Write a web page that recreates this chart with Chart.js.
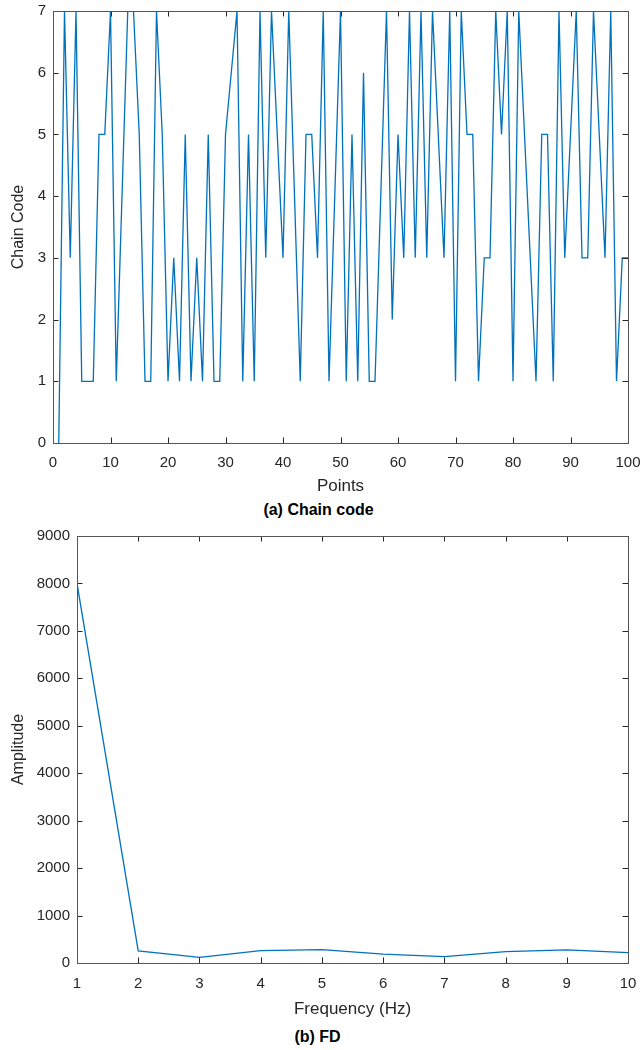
<!DOCTYPE html>
<html>
<head>
<meta charset="utf-8">
<script src="https://cdn.jsdelivr.net/npm/chart.js@4.4.1/dist/chart.umd.min.js"></script>
<style>
  body { margin: 0; background: #fff; width: 643px; height: 1050px; position: relative; overflow: hidden; }
  .box { position: absolute; left: 0; width: 643px; }
  .cap { position: absolute; width: 643px; text-align: center; font-family: "Liberation Sans", Arial, sans-serif;
         font-weight: bold; font-size: 16px; color: #000; }
</style>
</head>
<body>
<div class="box" style="top:0px;height:500px"><canvas id="chainChart"></canvas></div>
<div class="cap" style="top:501px;left:-3px">(a) Chain code</div>
<div class="box" style="top:520px;height:505px"><canvas id="fdChart"></canvas></div>
<div class="cap" style="top:1028px;left:-4px">(b) FD</div>
<script>
// chain code for points 1..100
const chainCode = [
  0, 7, 3, 7, 1, 1, 1, 5, 5, 7,
  1, 4, 7, 7, 5, 1, 1, 7, 5, 1,
  3, 1, 5, 1, 3, 1, 5, 1, 1, 5,
  6, 7, 1, 5, 1, 7, 3, 7, 5, 3,
  7, 4, 1, 5, 5, 3, 7, 1, 4, 7,
  1, 5, 1, 6, 1, 1, 4, 7, 2, 5,
  3, 7, 3, 7, 3, 7, 5, 3, 7, 1,
  7, 5, 5, 1, 3, 3, 7, 5, 7, 1,
  7, 5, 3, 1, 5, 5, 1, 7, 3, 5,
  7, 3, 3, 7, 5, 3, 7, 1, 3, 3
];

// fourier descriptor amplitudes
const fdFreq = [1, 2, 3, 4, 5, 6, 7, 8, 9, 10];
const fdAmp = [8000, 255, 120, 260, 280, 185, 135, 240, 275, 220];

const blue = '#0072BD';
const axisCol = '#262626';
const fontFam = '"Liberation Sans", Arial, sans-serif';

// MATLAB style box with inward ticks on all four sides
const boxTicks = {
  id: 'boxTicks',
  afterDraw(chart) {
    const ctx = chart.ctx;
    const a = chart.chartArea;
    const xs = chart.scales.x;
    const ys = chart.scales.y;
    const len = 5.5;
    ctx.save();
    ctx.strokeStyle = axisCol;
    ctx.lineWidth = 1;
    ctx.beginPath();
    xs.ticks.forEach((t) => {
      const px = Math.round(xs.getPixelForValue(t.value)) + 0.5;
      ctx.moveTo(px, a.bottom); ctx.lineTo(px, a.bottom - len);
      ctx.moveTo(px, a.top); ctx.lineTo(px, a.top + len);
    });
    ys.ticks.forEach((t) => {
      const py = Math.round(ys.getPixelForValue(t.value)) + 0.5;
      ctx.moveTo(a.left, py); ctx.lineTo(a.left + len, py);
      ctx.moveTo(a.right, py); ctx.lineTo(a.right - len, py);
    });
    ctx.stroke();
    ctx.strokeStyle = '#555';
    ctx.strokeRect(Math.round(a.left) + 0.5, Math.round(a.top) + 0.5,
      Math.round(a.right - a.left), Math.round(a.bottom - a.top));
    ctx.restore();
  }
};

function makeChart(target, points, opts) {
  return new Chart(target, {
    type: 'line',
    data: {
      datasets: [{
        data: points,
        borderColor: blue,
        borderWidth: 1.3,
        pointRadius: 0,
        tension: 0,
        fill: false
      }]
    },
    options: {
      responsive: true,
      maintainAspectRatio: false,
      animation: false,
      layout: { padding: opts.padding },
      plugins: { legend: { display: false }, tooltip: { enabled: false } },
      scales: {
        x: {
          type: 'linear',
          min: opts.xMin, max: opts.xMax,
          grid: { display: false, drawTicks: false },
          border: { display: false },
          afterFit: (s) => { s.height = opts.xHeight; s.paddingLeft = 0; s.paddingRight = 0; },
          ticks: { stepSize: opts.xStep, color: axisCol, font: { family: fontFam, size: 15 }, padding: opts.xTickPad, maxRotation: 0, autoSkip: false,
                   callback: (v) => String(v) },
          title: { display: true, text: opts.xTitle, color: axisCol, font: { family: fontFam, size: 17 }, padding: { top: 0, bottom: opts.xTitlePad } }
        },
        y: {
          min: opts.yMin, max: opts.yMax,
          grid: { display: false, drawTicks: false },
          border: { display: false },
          afterFit: (s) => { s.width = opts.yWidth; s.paddingTop = 0; s.paddingBottom = 0; },
          ticks: { stepSize: opts.yStep, color: axisCol, font: { family: fontFam, size: 15 }, padding: 7, autoSkip: false,
                   callback: (v) => String(v) },
          title: { display: true, text: opts.yTitle, color: axisCol, font: { family: fontFam, size: 16 }, padding: { top: 9, bottom: 0 } }
        }
      }
    },
    plugins: [boxTicks]
  });
}

function mainEvent() {
  const chainPts = chainCode.map((v, i) => ({ x: i + 1, y: v }));
  makeChart(document.querySelector('#chainChart'), chainPts, {
    padding: { top: 11, right: 15, left: 0, bottom: 0 },
    xMin: 0, xMax: 100, xStep: 10, xHeight: 57, xTickPad: 11, xTitle: 'Points', xTitlePad: 3,
    yMin: 0, yMax: 7, yStep: 1, yWidth: 53, yTitle: 'Chain Code'
  });

  const fdPts = fdFreq.map((f, i) => ({ x: f, y: fdAmp[i] }));
  makeChart(document.querySelector('#fdChart'), fdPts, {
    padding: { top: 16, right: 15, left: 0, bottom: 0 },
    xMin: 1, xMax: 10, xStep: 1, xHeight: 62, xTickPad: 12, xTitle: 'Frequency (Hz)', xTitlePad: 5,
    yMin: 0, yMax: 9000, yStep: 1000, yWidth: 77, yTitle: 'Amplitude'
  });
}

document.addEventListener('DOMContentLoaded', () => mainEvent());
</script>
</body>
</html>
